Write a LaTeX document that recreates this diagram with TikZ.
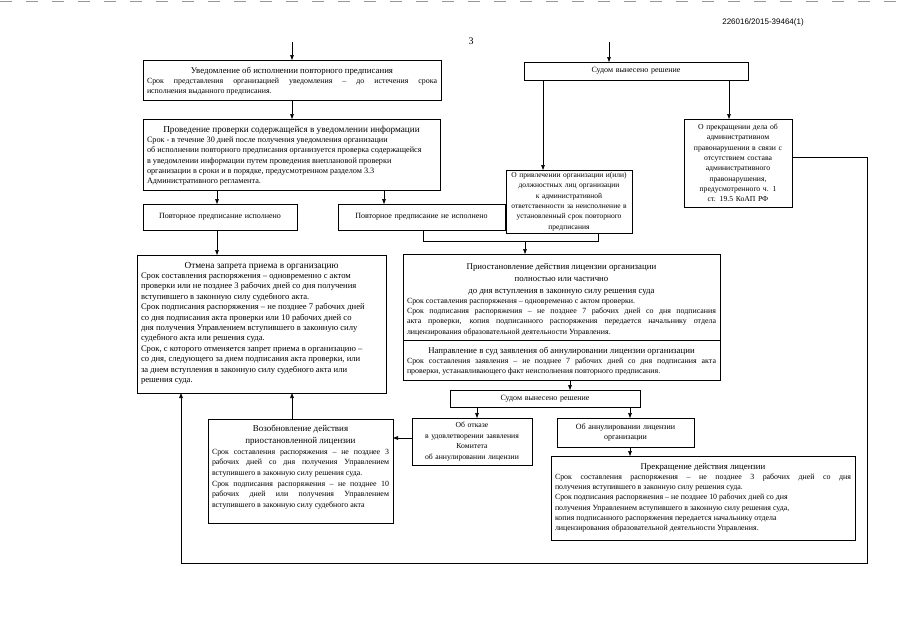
\documentclass[tikz,border=0pt]{standalone}
\usepackage{fontspec}
\setmainfont{Liberation Serif}
\newfontfamily\hdrfont{Liberation Sans}
\usetikzlibrary{arrows.meta}
\newcommand{\tfs}{\fontsize{8.8}{11.5}\selectfont}
\newcommand{\jl}[1]{\makebox[\linewidth][s]{#1}\par}
\newcommand{\tl}[1]{{\centering\tfs #1\par}}
\tikzset{
  box/.style={draw=black, line width=0.7pt, fill=white, inner xsep=4pt, inner ysep=2pt, anchor=north west, outer sep=0pt, font=\fontsize{7.9}{10.3}\selectfont},
  cbox/.style={draw=black, line width=0.7pt, fill=white, inner xsep=2pt, inner ysep=0pt, anchor=north west, outer sep=0pt, align=center, font=\fontsize{8}{10.3}\selectfont},
  arr/.style={-{Triangle[length=5pt,width=3.6pt]}, line width=0.7pt},
  ln/.style={line width=0.7pt},
}
\begin{document}
\begin{tikzpicture}[x=1pt,y=-1pt]
\fill[white] (0,0) rectangle (905,640);
\useasboundingbox (0,0) rectangle (905,640);
\draw[gray!80, line width=0.8pt, dash pattern=on 12pt off 14pt] (0,1.5) -- (905,1.5);
\node[font=\hdrfont\fontsize{8}{9}\selectfont] (hdr) at (763,22) {226016/2015-39464(1)};
\node[font=\fontsize{10}{12}\selectfont] (pg) at (471,41) {3};

% left column
\node[box] (A) at (143,60) {\parbox[c][36pt][t]{290pt}{\raggedright\vspace*{5pt}
\tl{Уведомление об исполнении повторного предписания}
\jl{Срок представления организацией уведомления – до истечения срока}
исполнения выданного предписания.}};

\node[box, font=\fontsize{8.2}{10.3}\selectfont] (B) at (143,119) {\parbox[c][67pt][t]{289pt}{\raggedright\vspace*{5pt}
{\centering\fontsize{9.2}{11.5}\selectfont Проведение проверки содержащейся в уведомлении информации\par}
Срок - в течение 30 дней после получения уведомления организации\par
об исполнении повторного предписания организуется проверка содержащейся\par
в уведомлении информации путем проведения внеплановой проверки\par
организации в сроки и в порядке, предусмотренном разделом 3.3\par
Административного регламента.}};

\node[cbox, minimum width=154pt, minimum height=26pt, text width=150pt] (C) at (143,204) {Повторное предписание исполнено};
\node[cbox, minimum width=167pt, minimum height=26pt, text width=163pt] (D) at (338,204) {Повторное предписание не исполнено};

\node[box, font=\fontsize{8.6}{10.4}\selectfont] (E) at (137,255) {\parbox[c][134pt][t]{241pt}{\raggedright\vspace*{5pt}
{\centering\fontsize{9.3}{11.5}\selectfont Отмена запрета приема в организацию\par}
Срок составления распоряжения – одновременно с актом\par
проверки или не позднее 3 рабочих дней со дня получения\par
вступившего в законную силу  судебного акта.\par
Срок подписания распоряжения – не позднее 7 рабочих дней\par
со дня подписания акта проверки или 10 рабочих дней со\par
дня получения  Управлением вступившего в законную силу\par
судебного акта или решения суда.\par
Срок, с которого отменяется запрет приема в организацию –\par
со дня, следующего за днем подписания акта проверки, или\par
за днем вступления в законную силу судебного акта или\par
решения суда.}};

\node[box, font=\fontsize{7.9}{10.6}\selectfont] (K) at (208,419) {\parbox[c][100pt][t]{177pt}{\raggedright\vspace*{4pt}
{\centering\fontsize{9}{12.3}\selectfont Возобновление действия\\ приостановленной лицензии\par}
\jl{Срок составления распоряжения – не позднее 3}
\jl{рабочих дней со дня получения Управлением}
вступившего в законную силу  решения суда.\par
\jl{Срок подписания распоряжения – не позднее 10}
\jl{рабочих дней или получения Управлением}
вступившего в законную силу  судебного акта}};

% right column
\node[cbox, minimum width=224pt, minimum height=18pt, text width=220pt] (H) at (524,62) {Судом вынесено решение};

\node[cbox, minimum width=126pt, minimum height=63pt, text width=122pt, font=\fontsize{7.5}{10.3}\selectfont] (F) at (506,170) {О привлечении организации  и(или)\\ должностных лиц организации\\ к административной\\ ответственности за неисполнение  в\\ установленный срок повторного\\ предписания};

\node[cbox, minimum width=108pt, minimum height=88pt, text width=104pt, font=\fontsize{7.7}{10.3}\selectfont] (I) at (684,119) {О прекращении дела об\\ административном\\ правонарушении в связи с\\ отсутствием состава\\ административного\\ правонарушения,\\ предусмотренного ч. 1\\ ст. 19.5 КоАП РФ};

\node[box] (G) at (403,254) {\parbox[c][82pt][t]{309pt}{\raggedright\vspace*{7pt}
{\centering\fontsize{8.8}{12}\selectfont Приостановление действия лицензии организации\\ полностью или частично\\ до дня вступления в законную силу решения суда\par}
Срок составления распоряжения – одновременно с актом проверки.\par
\jl{Срок подписания распоряжения – не позднее 7 рабочих дней со дня подписания}
\jl{акта проверки, копия подписанного распоряжения передается начальнику отдела}
лицензирования образовательной деятельности Управления.}};

\node[box] (G2) at (403,340) {\parbox[c][36pt][t]{309pt}{\raggedright\vspace*{5pt}
\tl{Направление в суд заявления об аннулировании лицензии  организации}
\jl{Срок составления заявления – не позднее 7 рабочих дней со дня подписания акта}
проверки, устанавливающего факт неисполнения повторного предписания.}};

\node[cbox, minimum width=190pt, minimum height=17pt, text width=186pt] (L) at (450,390) {Судом вынесено решение};

\node[cbox, minimum width=120pt, minimum height=47pt, text width=116pt, font=\fontsize{7.7}{10.8}\selectfont] (M) at (412,418) {Об отказе\\ в удовлетворении заявления\\ Комитета\\ об аннулировании лицензии};

\node[cbox, minimum width=137pt, minimum height=29pt, text width=133pt] (N) at (557,418) {Об аннулировании лицензии\\ организации};

\node[box] (J) at (551,456) {\parbox[c][80pt][t]{296pt}{\raggedright\vspace*{5pt}
\tl{Прекращение действия лицензии}
\jl{Срок составления распоряжения – не позднее 3 рабочих дней со дня}
получения вступившего в законную силу  решения суда.\par
Срок подписания распоряжения – не позднее 10 рабочих дней со дня\par
получения  Управлением вступившего в законную силу  решения суда,\par
копия подписанного распоряжения передается начальнику отдела\par
лицензирования образовательной деятельности Управления.}};

% connectors
\coordinate (inA) at (292,42);
\coordinate (inH) at (609,42);
\coordinate (jn) at (525,241);
\draw[arr] (inA) -- (A.north -| inA);
\draw[arr] (A.south -| inA) -- (B.north -| inA);
\draw[arr] (B.south -| 217,0) -- (C.north -| 217,0);
\draw[arr] (B.south -| 384,0) -- (D.north -| 384,0);
\draw[arr] (C.south -| 217,0) -- (E.north -| 217,0);
\draw[arr] (inH) -- (H.north -| inH);
\draw[arr] (H.south -| 543,0) -- (F.north -| 543,0);
\draw[arr] (H.south -| 729,0) -- (I.north -| 729,0);
\draw[ln] (D.south -| 423,0) -- (423,241) -- (598,241) -- (F.south -| 598,0);
\draw[arr] (jn) -- (G.north -| jn);
\draw[arr] (I.east |- 0,157) -- (867,157) -- (867,563) -- (181,563) -- (E.south -| 181,0);
\draw[arr] (K.north -| 292,0) -- (E.south -| 292,0);
\draw[arr] (M.west |- 0,438) -- (K.east |- 0,438);
\draw[arr] (G2.south -| 570,0) -- (L.north -| 570,0);
\draw[arr] (L.south -| 477,0) -- (M.north -| 477,0);
\draw[arr] (L.south -| 630,0) -- (N.north -| 630,0);
\draw[arr] (N.south -| 630,0) -- (J.north -| 630,0);
\end{tikzpicture}
\end{document}
